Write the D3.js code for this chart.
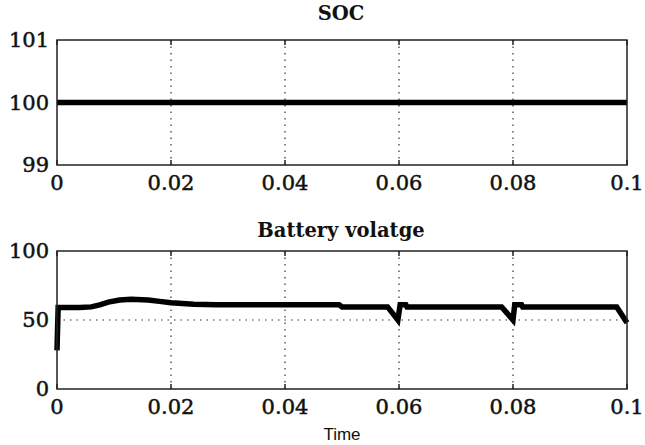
<!DOCTYPE html>
<html>
<head>
<meta charset="utf-8">
<script src="https://cdn.jsdelivr.net/npm/d3@7"></script>
<style>
  body { margin: 0; background: #fff; }
  text { fill: #111; }
</style>
</head>
<body>
<div id="vis"></div>
<script>
// SOC panel: flat 100 the whole run
var socTime = [0, 0.1];
var socValue = [100, 100];

// battery voltage
var vTime = [0, 0.0002, 0.004, 0.006, 0.0075, 0.009, 0.011, 0.013, 0.016, 0.018, 0.020, 0.024, 0.028, 0.034, 0.040, 0.0495, 0.050, 0.058, 0.0598, 0.0602, 0.0612, 0.0614, 0.078, 0.0800, 0.0803, 0.0815, 0.0817, 0.0982, 0.1];
var vValue = [28, 59, 59, 59.5, 61, 63, 64.5, 65, 64.5, 63.5, 62.5, 61.5, 61, 61, 61, 61, 59.5, 59.5, 50, 61, 61, 59.5, 59.5, 50, 61, 61, 59.5, 59.5, 48];

var xTicks = [0, 0.02, 0.04, 0.06, 0.08, 0.1];
var socTicks = [99, 100, 101];
var vTicks = [0, 50, 100];

var W = 645, H = 445;
var svg = d3.select('#vis').append('svg')
  .attr('width', W)
  .attr('height', H);

var left = 57, right = 627;
var x = d3.scaleLinear().domain([0, 0.1]).range([left, right]);

function fmt(d) { return d === 0 ? '0' : String(+d.toFixed(2)); }

makePanel = function(top, bottom, yDom, yTicks, gridY, title, tx, ty, data) {
  var y = d3.scaleLinear().domain(yDom).range([bottom, top]);
  var g = svg.append('g');

  // dotted grid
  g.selectAll('.gx').data(xTicks.slice(1, -1)).enter().append('line')
    .attr('x1', d => x(d)).attr('x2', d => x(d))
    .attr('y1', top).attr('y2', bottom)
    .attr('stroke', '#333').attr('stroke-width', 1.2)
    .attr('stroke-dasharray', '1.5,5');
  g.selectAll('.gy').data(gridY).enter().append('line')
    .attr('x1', left).attr('x2', right)
    .attr('y1', d => y(d)).attr('y2', d => y(d))
    .attr('stroke', '#333').attr('stroke-width', 1.2)
    .attr('stroke-dasharray', '1.5,5');

  // tick marks inside the box
  g.selectAll('.tb').data(xTicks).enter().append('line')
    .attr('x1', d => x(d)).attr('x2', d => x(d))
    .attr('y1', bottom).attr('y2', bottom - 5)
    .attr('stroke', '#222').attr('stroke-width', 1.5);
  g.selectAll('.tt').data(xTicks).enter().append('line')
    .attr('x1', d => x(d)).attr('x2', d => x(d))
    .attr('y1', top).attr('y2', top + 5)
    .attr('stroke', '#222').attr('stroke-width', 1.5);

  // the curve
  var line = d3.line().x(d => x(d[0])).y(d => y(d[1]));
  g.append('path')
    .datum(data)
    .attr('d', line)
    .attr('fill', 'none')
    .attr('stroke', '#000')
    .attr('stroke-width', 5.5)
    .attr('stroke-linejoin', 'miter');

  // box
  g.append('rect')
    .attr('x', left).attr('y', top)
    .attr('width', right - left).attr('height', bottom - top)
    .attr('fill', 'none').attr('stroke', '#222').attr('stroke-width', 1.5);

  // tick labels
  g.selectAll('.xl').data(xTicks).enter().append('text')
    .attr('x', d => x(d)).attr('y', bottom + 25)
    .attr('text-anchor', 'middle')
    .attr('font-family', 'DejaVu Serif').attr('font-size', 21)
    .attr('stroke', '#111').attr('stroke-width', 0.5)
    .text(fmt);
  g.selectAll('.yl').data(yTicks).enter().append('text')
    .attr('x', 49).attr('y', d => y(d) + 7)
    .attr('text-anchor', 'end')
    .attr('font-family', 'DejaVu Serif').attr('font-size', 21)
    .attr('stroke', '#111').attr('stroke-width', 0.5)
    .text(d => d);

  g.append('text')
    .attr('x', tx).attr('y', ty)
    .attr('text-anchor', 'middle')
    .attr('font-family', 'DejaVu Serif').attr('font-weight', 'bold')
    .attr('font-size', 19.5)
    .text(title);
}

makePanel(40, 165, [99, 101], socTicks, [], 'SOC', 341, 20, d3.zip(socTime, socValue));
makePanel(251, 389, [0, 100], vTicks, [50], 'Battery volatge', 341, 237, d3.zip(vTime, vValue));

svg.append('text')
  .attr('x', 342).attr('y', 440)
  .attr('text-anchor', 'middle')
  .attr('font-family', 'Liberation Sans').attr('font-size', 17)
  .text('Time');
</script>
</body>
</html>
